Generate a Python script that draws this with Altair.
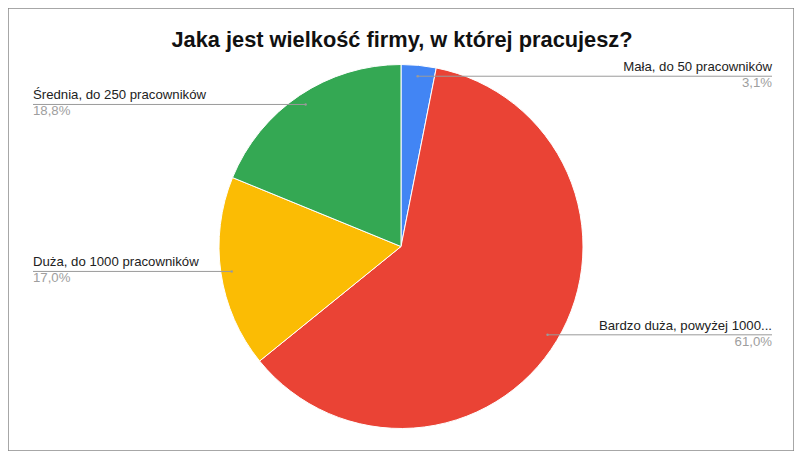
import altair as alt
import pandas as pd

categories = ["Mała, do 50 pracowników", "Bardzo duża, powyżej 1000...",
              "Duża, do 1000 pracowników", "Średnia, do 250 pracowników"]
values = [3.1, 61.0, 17.0, 18.8]
pct_labels = ["3,1%", "61,0%", "17,0%", "18,8%"]
colors = ["#4285F4", "#EA4335", "#FBBC04", "#34A853"]
order = [0, 1, 2, 3]
title_text = "Jaka jest wielkość firmy, w której pracujesz?"

W, H = 786, 443
CX, CY, R = 393, 238.5, 182
LR = 0.94 * R
LEFT_X, RIGHT_X = 25, 764

df = pd.DataFrame({"cat": categories, "value": values, "pct": pct_labels, "ord": order})
title_df = pd.DataFrame({"t": [title_text]})

base = alt.Chart(df)

pie = base.mark_arc(outerRadius=R, stroke="white", strokeWidth=1).encode(
    theta=alt.Theta("value:Q", stack=True),
    order=alt.Order("ord:Q"),
    color=alt.Color("cat:N", scale=alt.Scale(domain=categories, range=colors), legend=None),
    x=alt.value(CX),
    y=alt.value(CY),
)

geo = base.transform_joinaggregate(
    total="sum(value)"
).transform_window(
    cum="sum(value)", sort=[alt.SortField("ord")], frame=[None, 0]
).transform_calculate(
    mid="(datum.cum - datum.value/2)/datum.total*2*PI",
).transform_calculate(
    px=f"{CX} + {LR}*sin(datum.mid)",
    py=f"{CY} - {LR}*cos(datum.mid)",
    side="sin(datum.mid) >= 0 ? 'right' : 'left'",
).transform_calculate(
    lx=f"datum.side == 'right' ? {RIGHT_X} : {LEFT_X}",
    ty="datum.py - 2",
    py2="datum.py + 1",
)

X = lambda f: alt.X(f, scale=None, axis=None)
Y = lambda f: alt.Y(f, scale=None, axis=None)

lines = geo.mark_rule(color="#9a9a9a", strokeWidth=1).encode(
    x=X("px:Q"), x2="lx:Q", y=Y("py:Q"), y2="py:Q"
)
dots = geo.mark_circle(color="#9a9a9a", size=6, opacity=1).encode(
    x=X("px:Q"), y=Y("py:Q")
)

def labels(side, align):
    g = geo.transform_filter(f"datum.side == '{side}'")
    t1 = g.mark_text(align=align, baseline="bottom", font="Liberation Sans",
                     fontSize=13.2, color="#222222").encode(
        x=X("lx:Q"), y=Y("ty:Q"), text="cat:N")
    t2 = g.mark_text(align=align, baseline="top", font="Liberation Sans",
                     fontSize=13.2, color="#9e9e9e").encode(
        x=X("lx:Q"), y=Y("py2:Q"), text="pct:N")
    return t1 + t2

title = alt.Chart(title_df).mark_text(
    font="Liberation Sans", fontSize=21.8, fontWeight="bold", color="#111111",
    align="center", baseline="middle"
).encode(x=alt.value(394), y=alt.value(32), text="t:N")

chart = alt.layer(pie, lines, dots, labels("right", "right"), labels("left", "left"), title).properties(
    width=W, height=H, padding=0, autosize=alt.AutoSizeParams(type="none")
).configure_view(stroke="#8a8a8a", strokeWidth=1.5)

chart.save("out.html", embed_options={"renderer": "svg", "actions": False})
